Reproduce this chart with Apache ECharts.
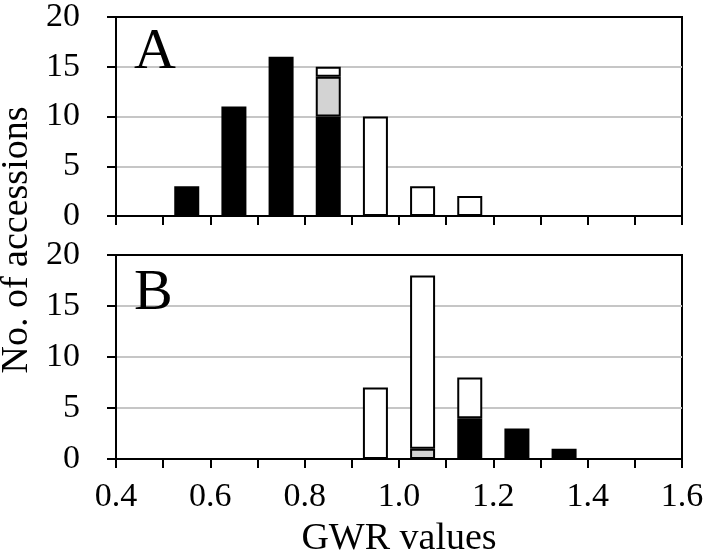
<!DOCTYPE html>
<html>
<head>
<meta charset="utf-8">
<script src="https://cdn.jsdelivr.net/npm/echarts@6/dist/echarts.min.js"></script>
<style>html,body{margin:0;padding:0;background:#fff;}#chart{width:708px;height:557px;}</style>
</head>
<body>
<div id="chart"></div>
<script>
// Bins (GWR value bins of width 0.1, labelled by centre)
const bins = ['0.45', '0.55', '0.65', '0.75', '0.85', '0.95', '1.05', '1.15', '1.25', '1.35', '1.45', '1.55'];
// Panel A
const aBlack = [0, 3, 11, 16, 10, 0, 0, 0, 0, 0, 0, 0];
const aGray  = [0, 0, 0, 0, 4, 0, 0, 0, 0, 0, 0, 0];
const aWhite = [0, 0, 0, 0, 1, 10, 3, 2, 0, 0, 0, 0];
// Panel B
const bBlack = [0, 0, 0, 0, 0, 0, 0, 4, 3, 1, 0, 0];
const bGray  = [0, 0, 0, 0, 0, 0, 1, 0, 0, 0, 0, 0];
const bWhite = [0, 0, 0, 0, 0, 7, 17, 4, 0, 0, 0, 0];
// Tick labels
const xTickLabels = ['0.4', '0.6', '0.8', '1.0', '1.2', '1.4', '1.6'];
const yTickLabels = ['0', '5', '10', '15', '20'];
const panelLabels = ['A', 'B'];
const xTitle = 'GWR values';
const yTitle = 'No. of accessions';

const FONT = "'Liberation Serif', 'Times New Roman', serif";
const chart = echarts.init(document.getElementById('chart'), null, {renderer: 'canvas'});

function catAxis(gridIndex) {
  return {
    type: 'category', gridIndex: gridIndex, data: bins, boundaryGap: true,
    axisLine: {show: true, lineStyle: {color: '#000', width: 2}},
    axisTick: {show: true, inside: false, interval: 0, alignWithLabel: false, length: 9, lineStyle: {color: '#000', width: 2}},
    splitLine: {show: false},
    axisLabel: {show: false}
  };
}
function labelAxis(gridIndex) {
  return {
    type: 'value', gridIndex: gridIndex, position: 'bottom', min: 0.4, max: 1.6, interval: 0.2,
    axisLine: {show: false}, axisTick: {show: false}, splitLine: {show: false},
    axisLabel: {
      show: true, margin: 21, color: '#000', fontFamily: FONT, fontSize: 34,
      formatter: function (v) {
        const s = (Math.round(v * 10) / 10).toFixed(1);
        return xTickLabels.indexOf(s) >= 0 ? s : '';
      }
    }
  };
}
function yAxisDef(gridIndex) {
  return {
    type: 'value', gridIndex: gridIndex, min: 0, max: 20, interval: 5,
    axisLine: {show: true, lineStyle: {color: '#000', width: 2}},
    axisTick: {show: true, inside: false, length: 9, lineStyle: {color: '#000', width: 2}},
    splitLine: {show: true, showMinLine: false, showMaxLine: false, lineStyle: {color: '#c6c6c6', width: 2}},
    axisLabel: {
      margin: 36, color: '#000', fontFamily: FONT, fontSize: 34,
      formatter: function (v) { const s = String(v); return yTickLabels.indexOf(s) >= 0 ? s : ''; }
    }
  };
}
function barSeries(name, vals, idx, fill, stack) {
  return {
    type: 'bar', name: name, xAxisIndex: idx, yAxisIndex: idx, stack: stack,
    barWidth: 25, data: vals.map(v => (v === 0 ? '-' : v)),
    itemStyle: {color: fill, borderColor: '#000', borderWidth: 2},
    emphasis: {disabled: true}, animation: false
  };
}

chart.setOption({
  animation: false,
  grid: [
    {left: 116, top: 13, width: 566, height: 203, show: true, borderColor: '#000', borderWidth: 2, backgroundColor: 'transparent'},
    {left: 116, top: 255, width: 566, height: 204, show: true, borderColor: '#000', borderWidth: 2, backgroundColor: 'transparent'}
  ],
  xAxis: [catAxis(0), catAxis(1), labelAxis(1)],
  yAxis: [yAxisDef(0), yAxisDef(1)],
  series: [
    barSeries('A black', aBlack, 0, '#000', 'a'),
    barSeries('A gray', aGray, 0, '#d3d3d3', 'a'),
    barSeries('A white', aWhite, 0, '#fff', 'a'),
    barSeries('B black', bBlack, 1, '#000', 'b'),
    barSeries('B gray', bGray, 1, '#d3d3d3', 'b'),
    barSeries('B white', bWhite, 1, '#fff', 'b')
  ],
  graphic: [
    {type: 'text', left: 134, top: 24, z: 100, style: {text: panelLabels[0], font: '58px ' + FONT, fill: '#000'}},
    {type: 'text', left: 134, top: 265, z: 100, style: {text: panelLabels[1], font: '58px ' + FONT, fill: '#000'}},
    {type: 'text', x: 399, y: 539, z: 100, style: {text: xTitle, font: '38px ' + FONT, fill: '#000', align: 'center', verticalAlign: 'middle'}},
    {type: 'text', x: 17, y: 240, rotation: Math.PI / 2, z: 100, style: {text: yTitle, font: '38px ' + FONT, fill: '#000', align: 'center', verticalAlign: 'middle'}}
  ]
});
</script>
</body>
</html>
